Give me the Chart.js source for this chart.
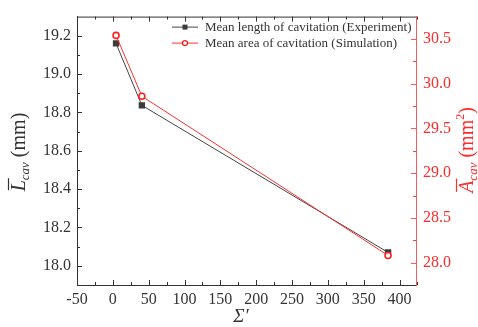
<!DOCTYPE html>
<html>
<head>
<meta charset="utf-8">
<script src="https://cdn.jsdelivr.net/npm/chart.js@4"></script>
<style>
  html, body { margin: 0; padding: 0; background: #fff; }
  #wrap { width: 478px; height: 327px; }
</style>
</head>
<body>
<div id="wrap"><canvas id="chart" width="478" height="327"></canvas></div>
<script>
// data
const sigmaValues = [4.5, 40.5, 384];
const lengthValues = [19.16, 18.837, 18.07];   // experiment, left axis (mm)
const areaValues = [30.54, 29.86, 28.08];      // simulation, right axis (mm^2)

const xTicks = [-50, 0, 50, 100, 150, 200, 250, 300, 350, 400];
const leftTicks = [18.0, 18.2, 18.4, 18.6, 18.8, 19.0, 19.2];
const rightTicks = [28.0, 28.5, 29.0, 29.5, 30.0, 30.5];

const seriesLabels = ['Mean length of cavitation (Experiment)', 'Mean area of cavitation (Simulation)'];

const FONT = "'Liberation Serif', 'Times New Roman', serif";
const DARK = '#333333';
const RED = '#ff2a2a';

function toPoints(xs, ys) {
    return xs.map((x, i) => ({ x: x, y: ys[i] }));
}

// inward ticks, minor ticks at half steps, top frame line
const frameTicks = {
    id: 'frameTicks',
    afterDatasetsDraw(chart) {
        const ctx = chart.ctx;
        const a = chart.chartArea;
        const sx = chart.scales.x, sy = chart.scales.y, sr = chart.scales.y1;
        ctx.save();
        ctx.lineWidth = 1;
        ctx.strokeStyle = DARK;
        ctx.beginPath();
        ctx.moveTo(a.left, a.top + 0.5);
        ctx.lineTo(a.right, a.top + 0.5);
        ctx.stroke();

        const drawX = (v, len) => {
            const p = Math.round(sx.getPixelForValue(v)) + 0.5;
            ctx.moveTo(p, a.bottom); ctx.lineTo(p, a.bottom - len);
            ctx.moveTo(p, a.top); ctx.lineTo(p, a.top + len);
        };
        ctx.beginPath();
        xTicks.forEach(v => { drawX(v, 5); drawX(v + 25, 3); });
        ctx.stroke();

        ctx.beginPath();
        leftTicks.forEach(v => {
            let p = Math.round(sy.getPixelForValue(v)) + 0.5;
            ctx.moveTo(a.left, p); ctx.lineTo(a.left + 5, p);
            [v - 0.1, v + 0.1].forEach(m => {
                if (m > sy.min && m < sy.max) {
                    p = Math.round(sy.getPixelForValue(m)) + 0.5;
                    ctx.moveTo(a.left, p); ctx.lineTo(a.left + 3, p);
                }
            });
        });
        ctx.stroke();

        ctx.strokeStyle = 'rgba(255, 60, 60, 0.85)';
        ctx.beginPath();
        rightTicks.forEach(v => {
            let p = Math.round(sr.getPixelForValue(v)) + 0.5;
            ctx.moveTo(a.right, p); ctx.lineTo(a.right - 5, p);
            [v - 0.25, v + 0.25].forEach(m => {
                if (m > sr.min && m < sr.max) {
                    p = Math.round(sr.getPixelForValue(m)) + 0.5;
                    ctx.moveTo(a.right, p); ctx.lineTo(a.right - 3, p);
                }
            });
        });
        ctx.stroke();
        ctx.restore();
    }
};

// axis titles with overline / subscript and the inside legend
const titlesAndLegend = {
    id: 'titlesAndLegend',
    afterDraw(chart) {
        const ctx = chart.ctx;
        const a = chart.chartArea;
        ctx.save();
        ctx.textBaseline = 'alphabetic';

        const drawSymbolTitle = (cx, cy, letter, color, sup) => {
            ctx.save();
            ctx.translate(cx, cy);
            ctx.rotate(-Math.PI / 2);
            ctx.fillStyle = color;
            ctx.strokeStyle = color;
            const big = 'italic 20px ' + FONT;
            const sub = 'italic 13px ' + FONT;
            const reg = '20px ' + FONT;
            const small = '12px ' + FONT;
            ctx.font = big; const wL = ctx.measureText(letter).width;
            ctx.font = sub; const wS = ctx.measureText('cav').width;
            ctx.font = reg; const wU = ctx.measureText(' (mm').width;
            ctx.font = small; const wP = sup ? ctx.measureText('2').width : 0;
            ctx.font = reg; const wC = ctx.measureText(')').width;
            const total = wL + wS + wU + wP + wC;
            let x = -total / 2;
            const base = 7;
            ctx.font = big; ctx.fillText(letter, x, base);
            ctx.lineWidth = 1.2;
            ctx.beginPath();
            ctx.moveTo(x + 1, base - 16.5); ctx.lineTo(x + wL + 2, base - 16.5);
            ctx.stroke();
            x += wL;
            ctx.font = sub; ctx.fillText('cav', x, base + 4); x += wS;
            ctx.font = reg; ctx.fillText(' (mm', x, base); x += wU;
            if (sup) { ctx.font = small; ctx.fillText('2', x, base - 9); x += wP; }
            ctx.font = reg; ctx.fillText(')', x, base);
            ctx.restore();
        };
        drawSymbolTitle(18, 152, 'L', DARK, false);
        drawSymbolTitle(466, 150, 'A', RED, true);

        ctx.fillStyle = DARK;
        ctx.font = 'italic 19px ' + FONT;
        ctx.textAlign = 'center';
        ctx.fillText('\u03A3\u2032', 241, 322);

        // legend inside the plot
        ctx.textAlign = 'left';
        ctx.textBaseline = 'middle';
        ctx.font = '13px ' + FONT;
        chart.data.datasets.forEach((ds, i) => {
            const y = a.top + 10 + i * 16;
            const x0 = 172;
            ctx.strokeStyle = ds.borderColor;
            ctx.lineWidth = 1;
            ctx.beginPath();
            ctx.moveTo(x0, y + 0.5); ctx.lineTo(x0 + 26, y + 0.5);
            ctx.stroke();
            const mx = x0 + 13;
            if (ds.pointStyle === 'rect') {
                ctx.fillStyle = ds.pointBackgroundColor;
                ctx.fillRect(mx - 2.5, y - 2, 5, 5);
            } else {
                ctx.fillStyle = '#fff';
                ctx.strokeStyle = ds.pointBorderColor;
                ctx.lineWidth = 1.3;
                ctx.beginPath();
                ctx.arc(mx, y + 0.5, 2.5, 0, Math.PI * 2);
                ctx.fill(); ctx.stroke();
            }
            ctx.fillStyle = DARK;
            ctx.fillText(ds.label, x0 + 33, y + 1);
        });
        ctx.restore();
    }
};

const fixedTicks = list => scale => {
    scale.ticks = list.map(v => ({ value: v }));
};

new Chart(document.getElementById('chart').getContext('2d'), {
    type: 'line',
    data: {
        datasets: [
            {
                label: seriesLabels[0],
                data: toPoints(sigmaValues, lengthValues),
                yAxisID: 'y',
                borderColor: '#444444',
                borderWidth: 1,
                pointStyle: 'rect',
                pointRadius: 4.5,
                pointBackgroundColor: '#3c3c3c',
                pointBorderColor: '#3c3c3c',
                pointBorderWidth: 0,
                order: 2
            },
            {
                label: seriesLabels[1],
                data: toPoints(sigmaValues, areaValues),
                yAxisID: 'y1',
                borderColor: '#ff3030',
                borderWidth: 1,
                pointStyle: 'circle',
                pointRadius: 3,
                pointBackgroundColor: '#ffffff',
                pointBorderColor: '#ff2020',
                pointBorderWidth: 1.6,
                order: 1
            }
        ]
    },
    options: {
        responsive: false,
        animation: false,
        layout: { padding: { top: 11, left: 0, right: 0, bottom: 0 } },
        plugins: { legend: { display: false }, tooltip: { enabled: false } },
        scales: {
            x: {
                type: 'linear',
                min: -50,
                max: 423,
                afterBuildTicks: fixedTicks(xTicks),
                afterFit: s => { s.height = 42; },
                grid: { display: false, drawTicks: false },
                border: { display: true, color: DARK, width: 1 },
                ticks: { color: DARK, font: { family: FONT, size: 16 }, padding: 5, autoSkip: false, maxRotation: 0 }
            },
            y: {
                position: 'left',
                min: 17.9,
                max: 19.3,
                afterBuildTicks: fixedTicks(leftTicks),
                afterFit: s => { s.width = 77; },
                grid: { display: false, drawTicks: false },
                border: { display: true, color: DARK, width: 1 },
                ticks: { color: DARK, font: { family: FONT, size: 16 }, padding: 6, callback: v => v.toFixed(1) }
            },
            y1: {
                position: 'right',
                min: 27.75,
                max: 30.75,
                afterBuildTicks: fixedTicks(rightTicks),
                afterFit: s => { s.width = 62; },
                grid: { display: false, drawTicks: false },
                border: { display: true, color: 'rgba(255, 60, 60, 0.85)', width: 1 },
                ticks: { color: RED, font: { family: FONT, size: 16 }, padding: 7, callback: v => v.toFixed(1) }
            }
        }
    },
    plugins: [frameTicks, titlesAndLegend]
});
</script>
</body>
</html>
